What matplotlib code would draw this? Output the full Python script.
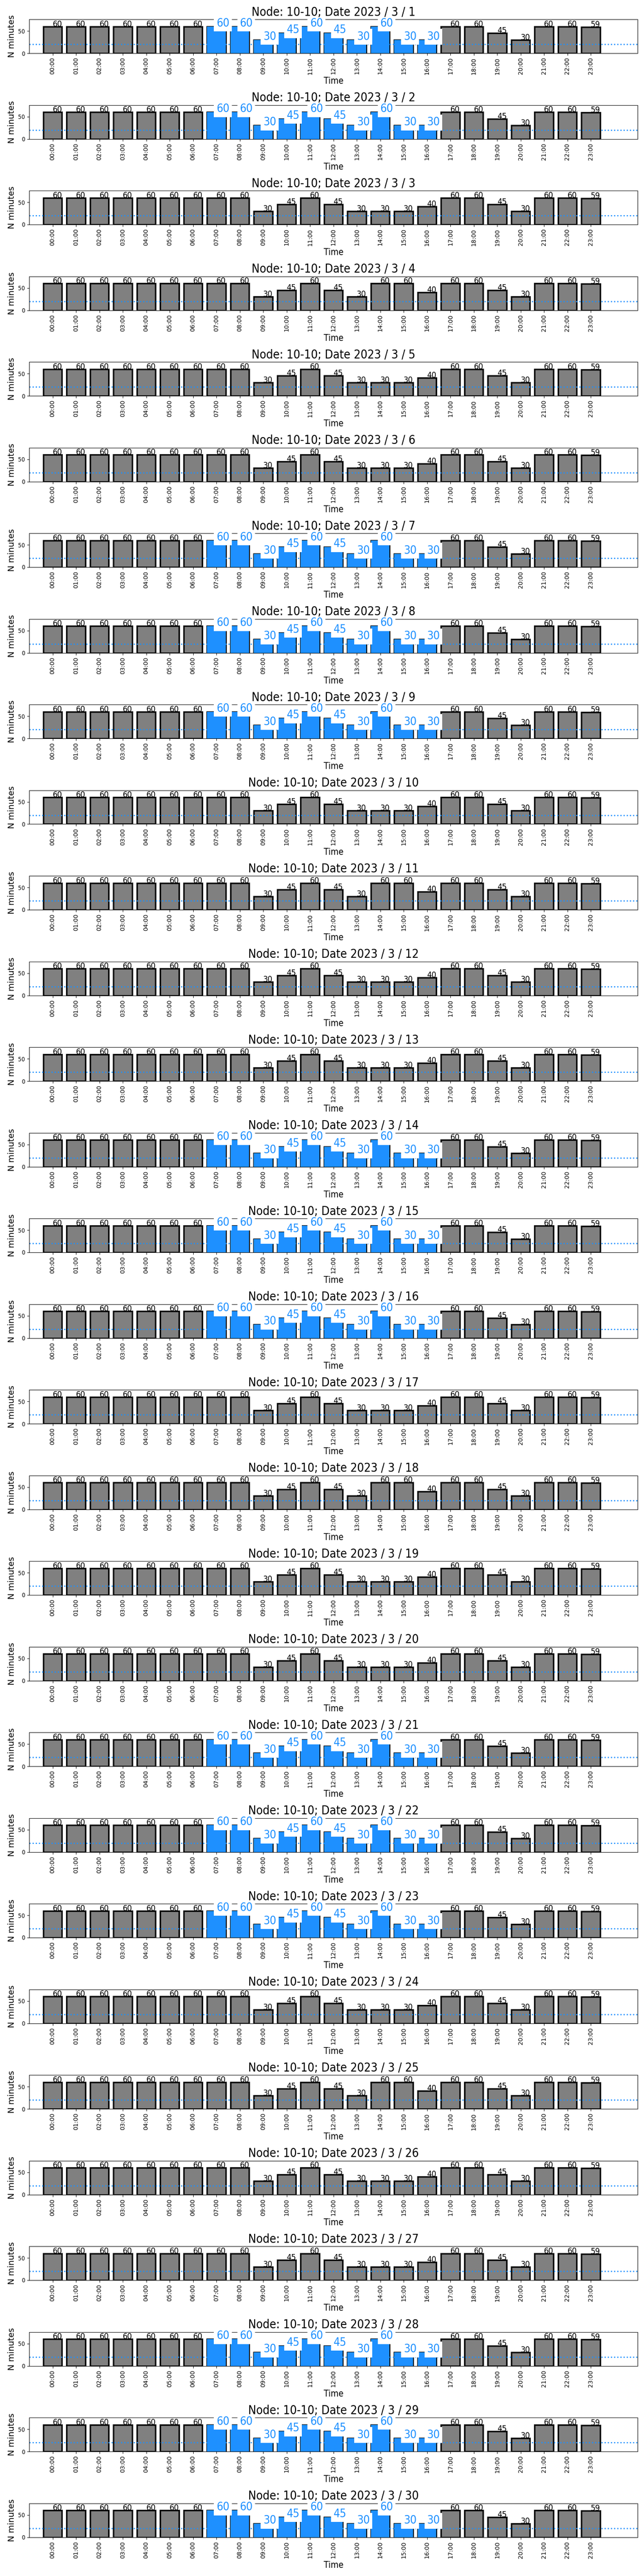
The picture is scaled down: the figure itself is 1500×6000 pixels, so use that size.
import matplotlib
matplotlib.use("Agg")
import matplotlib.pyplot as plt
from matplotlib import font_manager as fm
from matplotlib.font_manager import FontProperties

# ---------------- data ----------------
hours = ["00:00", "01:00", "02:00", "03:00", "04:00", "05:00", "06:00", "07:00",
         "08:00", "09:00", "10:00", "11:00", "12:00", "13:00", "14:00", "15:00",
         "16:00", "17:00", "18:00", "19:00", "20:00", "21:00", "22:00", "23:00"]

days = list(range(1, 31))

# Tue / Wed / Thu profile (highlighted days)
values_tue_thu = [60, 60, 60, 60, 60, 60, 60, 60, 60, 30, 45, 60,
                  45, 30, 60, 30, 30, 60, 60, 45, 30, 60, 60, 59]
# Friday profile
values_fri = [60, 60, 60, 60, 60, 60, 60, 60, 60, 30, 45, 60,
              45, 30, 30, 30, 40, 60, 60, 45, 30, 60, 60, 59]
# Saturday profile
values_sat = [60, 60, 60, 60, 60, 60, 60, 60, 60, 30, 45, 60,
              45, 30, 60, 60, 40, 60, 60, 45, 30, 60, 60, 59]
# Sunday profile
values_sun = [60, 60, 60, 60, 60, 60, 60, 60, 60, 30, 45, 60,
              45, 30, 30, 30, 40, 60, 60, 45, 30, 60, 60, 59]
# Monday profile
values_mon = [60, 60, 60, 60, 60, 60, 60, 60, 60, 30, 45, 60,
              45, 30, 30, 30, 40, 60, 60, 45, 30, 60, 60, 59]

# weekday of each day in March 2023 (1 = Wednesday)
day_kind = ["wed", "thu", "fri", "sat", "sun", "mon", "tue",
            "wed", "thu", "fri", "sat", "sun", "mon", "tue",
            "wed", "thu", "fri", "sat", "sun", "mon", "tue",
            "wed", "thu", "fri", "sat", "sun", "mon", "tue",
            "wed", "thu"]

highlight_kinds = ["tue", "wed", "thu"]
highlight_hours = [7, 8, 9, 10, 11, 12, 13, 14, 15, 16]
threshold = 20

profiles = {"tue": values_tue_thu, "wed": values_tue_thu, "thu": values_tue_thu,
            "fri": values_fri, "sat": values_sat, "sun": values_sun, "mon": values_mon}

# ---------------- style ----------------
BLUE = "#1E90FF"
GRAY = "#808080"


def condensed_props(size):
    fname = None
    for f in fm.fontManager.ttflist:
        if f.fname.endswith("DejaVuSansCondensed.ttf"):
            fname = f.fname
            break
    if fname:
        return FontProperties(fname=fname, size=size)
    return FontProperties(family="DejaVu Sans", stretch="condensed", size=size)


W, H = 1500, 6000
fig = plt.figure(figsize=(W / 100, H / 100), dpi=100)

left_px, right_px = 68, 1485
top0_px, pitch_px, ax_h_px = 45, 199.5, 79

for i, d in enumerate(days):
    vals = profiles[day_kind[i]]
    top = top0_px + pitch_px * i
    ax = fig.add_axes([left_px / W, 1 - (top + ax_h_px) / H,
                       (right_px - left_px) / W, ax_h_px / H])
    x = list(range(len(hours)))
    ax.bar(x, vals, width=0.8, color=GRAY, edgecolor="black", linewidth=2.5)
    hl = day_kind[i] in highlight_kinds
    if hl:
        hx = highlight_hours
        hv = [vals[h] for h in hx]
        ax.bar(hx, hv, width=0.8, color=BLUE, linewidth=0)
    ax.axhline(threshold, color=BLUE, linestyle=":", linewidth=2)

    for xi, v in zip(x, vals):
        if hl and xi in highlight_hours:
            ax.text(xi, v, str(v), color=BLUE, fontproperties=condensed_props(19),
                    bbox=dict(facecolor="white", edgecolor="none"))
        else:
            ax.text(xi, v, str(v), color="black", fontproperties=condensed_props(14))

    ax.set_xlim(-1, 25)
    ax.set_ylim(0, 76)
    ax.set_yticks([0, 50])
    ax.set_xticks(x)
    ax.set_xticklabels(hours, rotation=90, fontsize=10)
    for lab in ax.get_yticklabels():
        lab.set_fontproperties(condensed_props(10))
    ax.set_ylabel("N minutes", fontsize=14)
    ax.set_xlabel("Time", fontproperties=condensed_props(15))
    ax.set_title(f"Node: 10-10; Date 2023 / 3 / {d}", fontproperties=condensed_props(20))

fig.savefig("out.png", dpi=100)
